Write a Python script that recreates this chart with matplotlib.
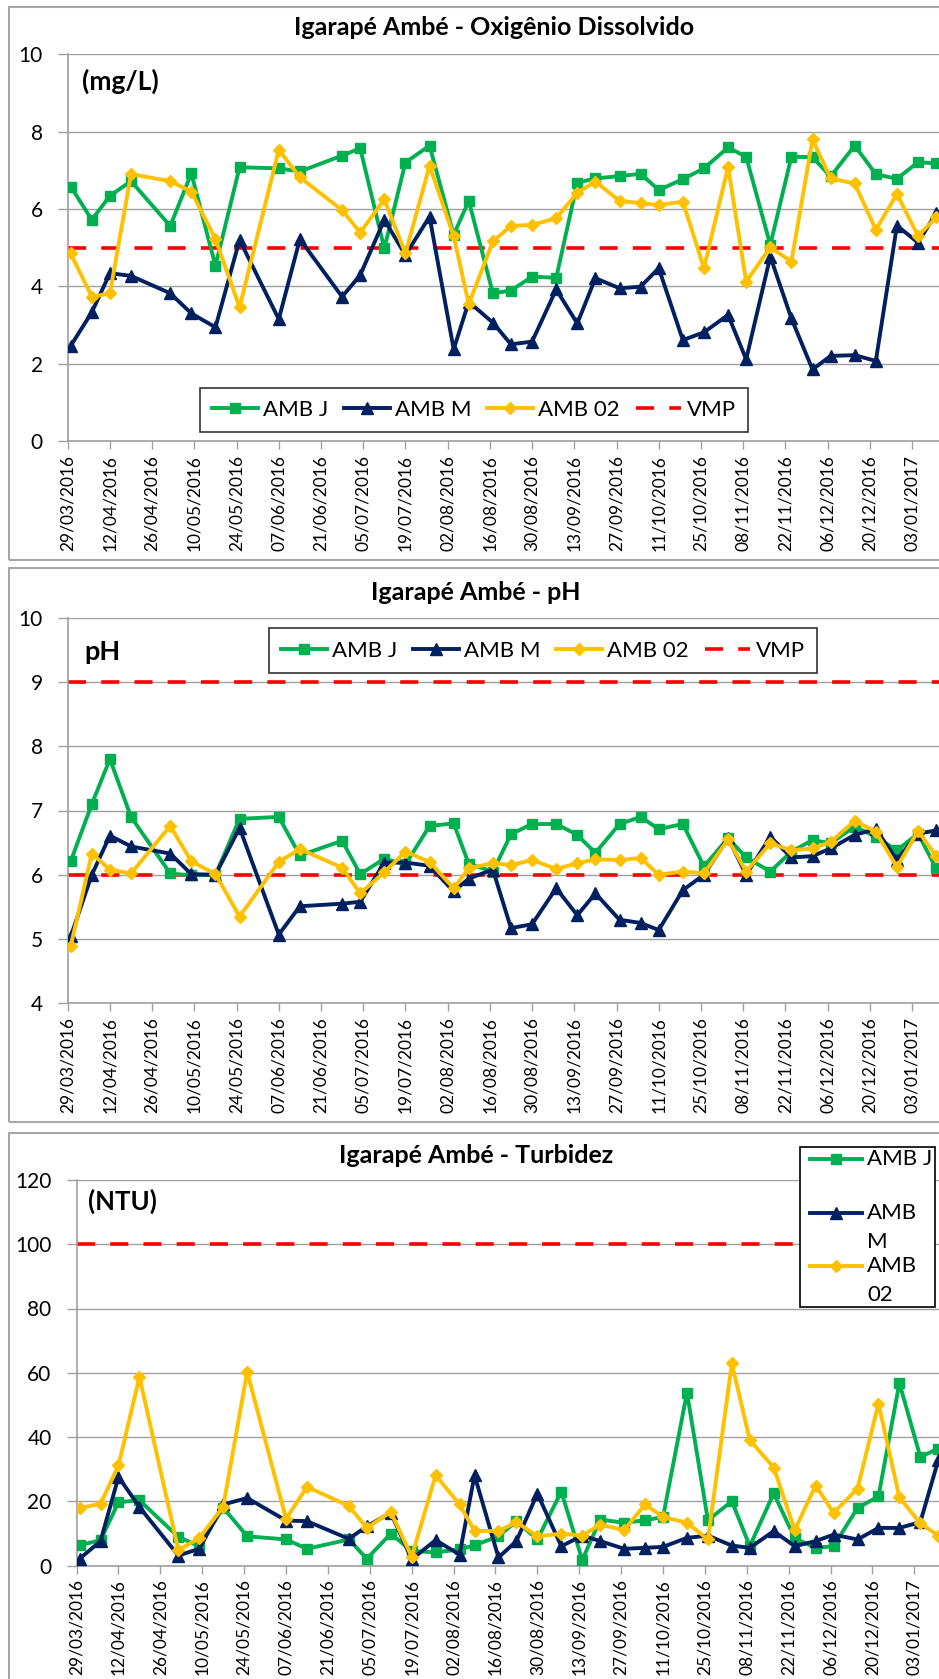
import matplotlib
matplotlib.use("Agg")
import matplotlib.pyplot as plt
import matplotlib.dates as mdates
from matplotlib.lines import Line2D
from matplotlib.patches import Rectangle
import pandas as pd

# sampling dates (same for all stations)
date_str = ["30/03/2016", "06/04/2016", "12/04/2016", "19/04/2016", "02/05/2016",
            "09/05/2016", "17/05/2016", "25/05/2016", "07/06/2016", "14/06/2016",
            "28/06/2016", "04/07/2016", "12/07/2016", "19/07/2016", "27/07/2016",
            "04/08/2016", "09/08/2016", "17/08/2016", "23/08/2016", "30/08/2016",
            "07/09/2016", "14/09/2016", "20/09/2016", "28/09/2016", "05/10/2016",
            "11/10/2016", "19/10/2016", "26/10/2016", "03/11/2016", "09/11/2016",
            "17/11/2016", "24/11/2016", "01/12/2016", "07/12/2016", "15/12/2016",
            "22/12/2016", "29/12/2016", "05/01/2017", "11/01/2017"]
dates = pd.to_datetime(date_str, format="%d/%m/%Y")

# Oxigenio dissolvido (mg/L)
od_j = [6.58, 5.72, 6.34, 6.72, 5.56, 6.92, 4.53, 7.08, 7.05, 6.97, 7.38, 7.57, 4.98,
        7.20, 7.64, 5.33, 6.21, 3.82, 3.89, 4.25, 4.22, 6.68, 6.79, 6.85, 6.91, 6.49,
        6.77, 7.05, 7.59, 7.35, 5.07, 7.35, 7.34, 6.84, 7.64, 6.90, 6.78, 7.21, 7.18]
od_m = [2.46, 3.33, 4.34, 4.27, 3.82, 3.30, 2.94, 5.20, 3.15, 5.22, 3.73, 4.29, 5.72,
        4.81, 5.80, 2.37, 3.60, 3.06, 2.50, 2.57, 3.92, 3.04, 4.21, 3.95, 3.99, 4.47,
        2.61, 2.81, 3.26, 2.11, 4.77, 3.17, 1.85, 2.20, 2.22, 2.07, 5.57, 5.13, 5.89]
od_02 = [4.85, 3.73, 3.82, 6.90, 6.72, 6.45, 5.22, 3.46, 7.53, 6.82, 5.97, 5.39, 6.25,
         4.85, 7.12, 5.30, 3.54, 5.16, 5.56, 5.59, 5.76, 6.42, 6.71, 6.21, 6.15, 6.10,
         6.19, 4.47, 7.09, 4.12, 5.01, 4.64, 7.80, 6.79, 6.66, 5.46, 6.39, 5.30, 5.78]
od_vmp = [5]

# pH
ph_j = [6.21, 7.10, 7.80, 6.90, 6.02, 5.99, 6.00, 6.87, 6.90, 6.30, 6.53, 6.01, 6.25,
        6.16, 6.76, 6.80, 6.17, 6.05, 6.63, 6.79, 6.79, 6.62, 6.34, 6.79, 6.90, 6.71,
        6.79, 6.13, 6.57, 6.27, 6.05, 6.36, 6.54, 6.49, 6.75, 6.59, 6.38, 6.64, 6.10]
ph_m = [5.04, 6.00, 6.61, 6.44, 6.33, 6.01, 6.00, 6.73, 5.07, 5.51, 5.55, 5.58, 6.19,
        6.19, 6.14, 5.74, 5.94, 6.08, 5.17, 5.23, 5.79, 5.37, 5.71, 5.30, 5.25, 5.14,
        5.76, 6.00, 6.57, 6.00, 6.59, 6.27, 6.29, 6.41, 6.62, 6.71, 6.23, 6.64, 6.69]
ph_02 = [4.89, 6.33, 6.08, 6.02, 6.76, 6.21, 6.01, 5.35, 6.20, 6.40, 6.11, 5.71, 6.04,
         6.36, 6.20, 5.79, 6.10, 6.18, 6.15, 6.23, 6.09, 6.18, 6.24, 6.23, 6.26, 6.00,
         6.05, 6.02, 6.55, 6.05, 6.49, 6.38, 6.41, 6.51, 6.84, 6.67, 6.12, 6.68, 6.29]
ph_vmp = [6, 9]

# Turbidez (NTU)
tu_j = [6.3, 7.9, 19.7, 20.3, 8.9, 6.0, 18.0, 9.1, 8.1, 5.2, 8.1, 2.1, 9.9, 4.5, 4.1,
        5.0, 6.3, 9.1, 13.8, 8.1, 23.0, 1.7, 14.3, 13.3, 14.1, 15.1, 53.8, 14.1, 20.0,
        6.0, 22.5, 8.5, 5.5, 6.0, 17.9, 21.5, 56.8, 33.8, 36.4]
tu_m = [2.1, 7.6, 27.6, 18.2, 3.1, 5.2, 19.0, 21.0, 14.0, 13.8, 8.3, 12.2, 16.4, 1.9,
        7.9, 3.4, 28.1, 2.5, 7.6, 22.4, 6.0, 9.3, 7.6, 5.2, 5.5, 5.8, 8.6, 9.3, 6.2, 5.5,
        10.7, 6.0, 7.6, 9.6, 8.1, 11.7, 11.7, 13.5, 32.8]
tu_02 = [17.9, 19.2, 31.2, 58.7, 4.8, 8.5, 18.3, 60.3, 14.5, 24.5, 18.5, 11.7, 16.7,
         2.7, 28.1, 19.0, 10.8, 10.7, 13.5, 9.1, 9.9, 9.3, 12.7, 11.0, 19.0, 15.1, 13.3,
         8.1, 62.9, 39.0, 30.5, 11.0, 24.9, 16.4, 23.9, 50.4, 21.2, 13.1, 9.3]
tu_vmp = [100]

GREEN, NAVY, YELLOW, RED = "#00B050", "#002060", "#FFC000", "#FF0000"
GRID = "#A0A0A0"

plt.rcParams["font.family"] = ["Lato", "DejaVu Sans"]

W, H = 939, 1679
fig = plt.figure(figsize=(W / 100, H / 100), dpi=100)


def fx(x):
    return x / W


def fy(y):
    return 1 - y / H


def frame(top, bottom):
    fig.patches.append(Rectangle((fx(9), fy(bottom)), fx(1000), (bottom - top) / H,
                                 transform=fig.transFigure, fill=False,
                                 edgecolor="#A6A6A6", lw=1.5))


start = pd.Timestamp("2016-03-29")
ticks = pd.date_range(start, periods=21, freq="14D")


def panel(left, top, bottom, px_per_day, ylim, ystep, vmp):
    ax = fig.add_axes([fx(left), fy(bottom), fx(W) - fx(left), (bottom - top) / H])
    ax.set_xlim(start, start + pd.Timedelta(days=(W - left) / px_per_day))
    ax.set_ylim(*ylim)
    ax.set_yticks(range(ylim[0], ylim[1] + 1, ystep))
    ax.set_xticks(ticks)
    ax.xaxis.set_major_formatter(mdates.DateFormatter("%d/%m/%Y"))
    ax.tick_params(axis="x", direction="out", length=6, width=1, color=GRID,
                   labelsize=12.5, rotation=90, pad=4)
    ax.tick_params(axis="y", direction="out", length=7, width=1, color=GRID,
                   labelsize=15, pad=11)
    ax.grid(axis="y", color=GRID, lw=1)
    ax.set_axisbelow(True)
    for s in ["top", "right"]:
        ax.spines[s].set_visible(False)
    for s in ["left", "bottom"]:
        ax.spines[s].set_color(GRID)
        ax.spines[s].set_linewidth(1.2)
    for i, v in enumerate(vmp):
        ax.axhline(v, color=RED, lw=2.6, dashes=(5, 4.2), zorder=2,
                   label="VMP" if i == 0 else None)
    return ax


def series(ax, j, m, o):
    ax.plot(dates, j, color=GREEN, lw=2.8, marker="s", ms=7, label="AMB J", zorder=3)
    ax.plot(dates, m, color=NAVY, lw=2.8, marker="^", ms=8, label="AMB M", zorder=3)
    ax.plot(dates, o, color=YELLOW, lw=2.8, marker="D", ms=6, label="AMB 02", zorder=3)


def legend_row(ax, cx, cy):
    h, l = ax.get_legend_handles_labels()
    order = [l.index(n) for n in ["AMB J", "AMB M", "AMB 02", "VMP"]]
    leg = ax.legend([h[i] for i in order], [l[i] for i in order], ncol=4,
                    loc="center", bbox_to_anchor=(fx(cx), fy(cy)),
                    bbox_transform=fig.transFigure, fontsize=16, frameon=True,
                    fancybox=False, edgecolor="black", handlelength=2.05,
                    handletextpad=0.25, columnspacing=0.7, borderpad=0.55)
    leg.get_frame().set_linewidth(1.2)


# --- Oxigenio dissolvido
frame(7, 560)
ax1 = panel(67.7, 54.3, 441, 3.0154, (0, 10), 2, od_vmp)
series(ax1, od_j, od_m, od_02)
legend_row(ax1, 474, 410)
fig.text(fx(494), fy(35), "Igarapé Ambé - Oxigênio Dissolvido", ha="center",
         va="baseline", fontsize=18, weight="bold")
fig.text(fx(82), fy(90), "(mg/L)", ha="left", va="baseline", fontsize=19, weight="bold")

# --- pH
frame(568, 1122)
ax2 = panel(67.7, 617.7, 1003.3, 3.0154, (4, 10), 1, ph_vmp)
series(ax2, ph_j, ph_m, ph_02)
legend_row(ax2, 543, 650.5)
fig.text(fx(476), fy(600), "Igarapé Ambé - pH", ha="center", va="baseline",
         fontsize=18, weight="bold")
fig.text(fx(84), fy(660), "pH", ha="left", va="baseline", fontsize=19.5, weight="bold")

# --- Turbidez
frame(1133, 1720)
ax3 = panel(76.6, 1180, 1565.5, 2.992, (0, 120), 20, tu_vmp)
series(ax3, tu_j, tu_m, tu_02)
fig.text(fx(476), fy(1163), "Igarapé Ambé - Turbidez", ha="center", va="baseline",
         fontsize=18, weight="bold")
fig.text(fx(88), fy(1210), "(NTU)", ha="left", va="baseline", fontsize=18.5, weight="bold")

# legend of the turbidity chart (labels wrap over two lines)
fig.patches.append(Rectangle((fx(800), fy(1306.7)), fx(935) - fx(800), 160 / H,
                             transform=fig.transFigure, facecolor="white",
                             edgecolor="black", lw=1.2, zorder=5))
entries = [("AMB J", "", 1159, GREEN, "s", 7),
           ("AMB", "M", 1213, NAVY, "^", 8),
           ("AMB", "02", 1266, YELLOW, "D", 6)]
for first, second, y, col, mk, ms in entries:
    fig.add_artist(Line2D([fx(810), fx(836), fx(862)], [fy(y)] * 3,
                          transform=fig.transFigure, color=col, lw=2.8,
                          marker=mk, ms=ms, markevery=[1], zorder=6))
    fig.text(fx(867), fy(y), first, va="center", fontsize=16, zorder=6)
    if second:
        fig.text(fx(867), fy(y + 29), second, va="center", fontsize=16, zorder=6)

fig.savefig("out.png", dpi=100)
